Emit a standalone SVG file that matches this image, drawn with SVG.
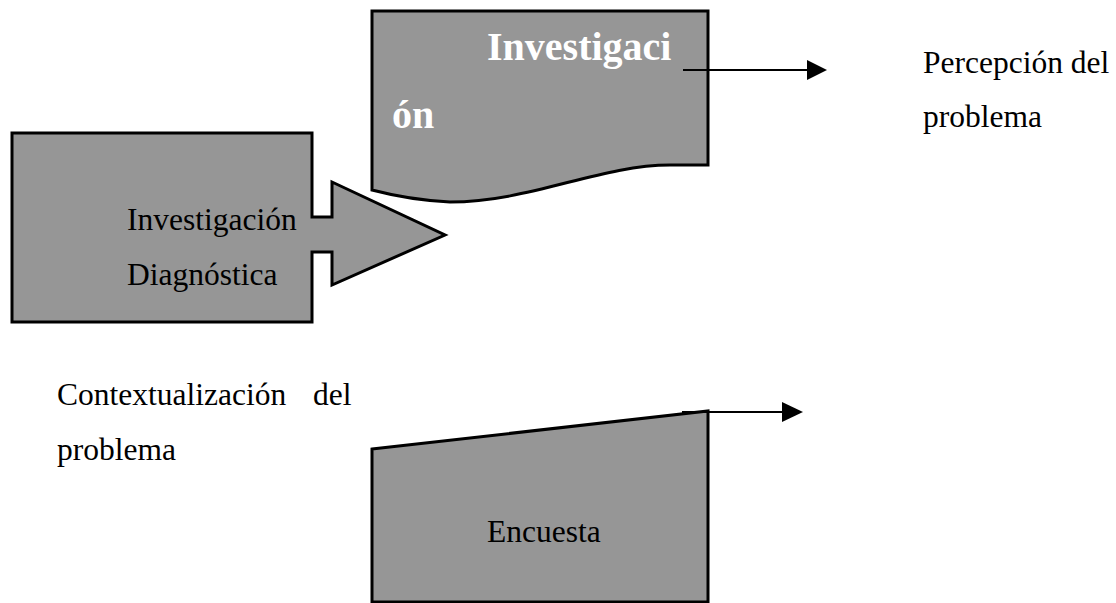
<svg xmlns="http://www.w3.org/2000/svg" width="1116" height="603" viewBox="0 0 1116 603">
<style>
.shape{fill:#969696;stroke:#000;stroke-width:3;stroke-linejoin:miter}
.t{font-family:"Liberation Serif","Times New Roman",serif;font-size:31.5px;fill:#000}
.tb{font-family:"Liberation Serif","Times New Roman",serif;font-size:40px;font-weight:bold;fill:#fff}
.conn{stroke:#000;stroke-width:2;fill:none}
</style>
<defs>
<marker id="ah" markerWidth="10" markerHeight="10" refX="10" refY="5" orient="auto" markerUnits="userSpaceOnUse" viewBox="0 0 10 10">
<path d="M0,0 L10,5 L0,10 Z" fill="#000"/>
</marker>
</defs>
<rect width="1116" height="603" fill="#fff"/>
<g id="investigacion-diagnostica">
<path class="shape" d="M12,133 H312 V217 H332 V182 L445,235 L332,285 V252 H312 V322 H12 Z"/>
<text class="t" x="127" y="230">Investigación</text>
<text class="t" x="127" y="285">Diagnóstica</text>
</g>
<g id="investigacion">
<path class="shape" d="M372,11 H708 V165 H670 C600,165 530,202 450,202 Q410,200 372,190 Z"/>
<text class="tb" x="487" y="60">Investigaci</text>
<text class="tb" x="392" y="128">ón</text>
</g>
<g id="encuesta">
<path class="shape" d="M372,449 L708,411 V602 H372 Z"/>
<text class="t" x="487" y="542">Encuesta</text>
</g>
<g id="percepcion">
<text class="t" x="923" y="73">Percepción del</text>
<text class="t" x="923" y="127">problema</text>
</g>
<g id="contextualizacion">
<text class="t" x="57" y="405">Contextualización</text>
<text class="t" x="313" y="405">del</text>
<text class="t" x="57" y="460">problema</text>
</g>
<g id="connectors">
<path class="conn" d="M683,70 H807"/>
<path d="M807,60 L827,70 L807,80 Z" fill="#000"/>
<path class="conn" d="M682,412 H782"/>
<path d="M782,402 L803,412 L782,422 Z" fill="#000"/>
</g>
</svg>
